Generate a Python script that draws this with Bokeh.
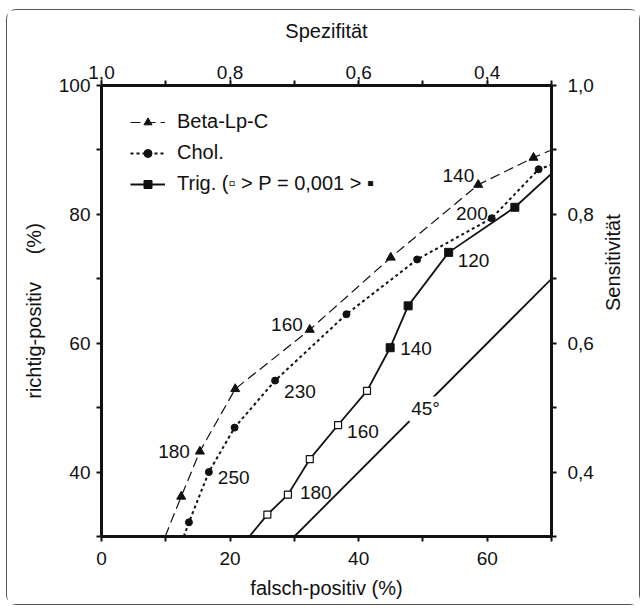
import math
from bokeh.plotting import figure
from bokeh.models import LinearAxis, FixedTicker, Label, Legend, LegendItem, Range1d
from bokeh.embed import file_html
from bokeh.resources import INLINE

# ---------------- data ----------------
fp_major = [0, 20, 40, 60]
fp_minor = [10, 30, 50, 70]
spec_labels = ["1,0", "0,8", "0,6", "0,4"]
tp_major = [40, 60, 80, 100]
tp_minor = [30, 50, 70, 90]
sens_labels = ["0,4", "0,6", "0,8", "1,0"]

# Beta-Lp-C (line vertices; first/last are where the curve meets the frame)
beta_fp = [9.9, 12.4, 15.3, 20.8, 32.4, 45.0, 58.6, 67.2, 70.0]
beta_tp = [30.0, 36.2, 43.2, 52.9, 62.1, 73.3, 84.6, 88.8, 90.0]
beta_cut = {2: "180", 4: "160", 6: "140"}

# Cholesterin
chol_fp = [12.8, 13.6, 16.7, 20.7, 27.0, 38.1, 49.1, 60.7, 68.0, 70.0]
chol_tp = [30.0, 32.2, 40.0, 46.9, 54.2, 64.5, 73.0, 79.4, 87.0, 87.7]
chol_cut = {2: "250", 4: "230", 7: "200"}

# Triglyceride (open = not significant, filled = significant)
trig_fp = [23.0, 25.8, 29.0, 32.4, 36.8, 41.3, 44.9, 47.7, 54.0, 64.3, 70.0]
trig_tp = [30.0, 33.4, 36.5, 42.0, 47.3, 52.6, 59.3, 65.8, 74.1, 81.1, 86.3]
trig_open_idx = [1, 2, 3, 4, 5]
trig_fill_idx = [6, 7, 8, 9]
trig_cut = {2: "180", 4: "160", 6: "140", 8: "120"}

diag_fp = [30, 70]
diag_tp = [30, 70]

FONT = "Liberation Sans"
INK = "#111111"

p = figure(width=634, height=596, output_backend="svg", toolbar_location=None,
           x_range=Range1d(0, 70), y_range=Range1d(30, 100),
           min_border_left=94, min_border_right=90, min_border_top=75, min_border_bottom=70,
           background_fill_color="white", border_fill_color="white")
p.outline_line_color = None
p.xgrid.visible = False
p.ygrid.visible = False
p.styles = {"border": "1.5px solid #555", "border-radius": "10px",
            "margin-left": "6px", "margin-top": "9px"}

bottom = p.below[0]
left = p.left[0]

bottom.ticker = FixedTicker(ticks=fp_major, minor_ticks=fp_minor)
bottom.axis_label = "falsch-positiv (%)"
left.ticker = FixedTicker(ticks=tp_major, minor_ticks=tp_minor)
left.axis_label = "richtig-positiv\u00a0\u00a0\u00a0\u00a0\u00a0(%)"

top = LinearAxis(ticker=FixedTicker(ticks=fp_major, minor_ticks=fp_minor),
                 major_label_overrides={t: s for t, s in zip(fp_major, spec_labels)},
                 axis_label="Spezifität")
right = LinearAxis(ticker=FixedTicker(ticks=tp_major, minor_ticks=tp_minor),
                   major_label_overrides={t: s for t, s in zip(tp_major, sens_labels)},
                   axis_label="Sensitivität")
p.add_layout(top, "above")
p.add_layout(right, "right")

for ax in [bottom, left, top, right]:
    ax.axis_line_width = 3
    ax.axis_line_color = INK
    ax.major_tick_line_width = 2
    ax.minor_tick_line_width = 2
    ax.major_tick_line_color = INK
    ax.minor_tick_line_color = INK
    ax.major_tick_in = 0
    ax.minor_tick_in = 0
    ax.major_tick_out = 5
    ax.minor_tick_out = 5
    ax.major_label_text_font = FONT
    ax.major_label_text_font_size = "19px"
    ax.major_label_text_color = INK
    ax.axis_label_text_font = FONT
    ax.axis_label_text_font_size = "20px"
    ax.axis_label_text_font_style = "normal"
    ax.axis_label_text_color = INK

bottom.major_label_standoff = 10
bottom.axis_label_standoff = 9
left.major_label_standoff = 6
left.axis_label_standoff = 11
top.major_label_standoff = 2
top.axis_label_standoff = 21
right.major_label_standoff = 11
right.axis_label_standoff = 16
right.axis_label_orientation = math.pi / 2

# curves
bl = p.line(beta_fp, beta_tp, line_color=INK, line_width=1.2, line_dash="10 5")
bs = p.scatter(beta_fp[1:-1], beta_tp[1:-1], marker="triangle", size=9,
               fill_color=INK, line_color=INK)
cl = p.line(chol_fp, chol_tp, line_color=INK, line_width=2, line_dash="3 3")
cs = p.scatter(chol_fp[1:-1], chol_tp[1:-1], marker="circle", size=7,
               fill_color=INK, line_color=INK)
tl = p.line(trig_fp, trig_tp, line_color=INK, line_width=1.8)
to = p.scatter([trig_fp[i] for i in trig_open_idx], [trig_tp[i] for i in trig_open_idx],
               marker="square", size=7, fill_color="white", line_color=INK, line_width=1.2)
tf = p.scatter([trig_fp[i] for i in trig_fill_idx], [trig_tp[i] for i in trig_fill_idx],
               marker="square", size=8, fill_color=INK, line_color=INK)
p.line(diag_fp, diag_tp, line_color=INK, line_width=1.8)

p.add_layout(Label(x=sum(diag_fp) / 2 + 0.4, y=sum(diag_tp) / 2 - 0.2, text="45°",
                   text_font=FONT, text_font_size="19px", text_color=INK,
                   text_align="center", text_baseline="middle",
                   background_fill_color="white", padding=2))

# cut-off labels placed beside their markers (offsets in screen px)
def put(xs, ys, cuts, offs):
    for (i, txt), (dx, dy, al) in zip(cuts.items(), offs):
        p.add_layout(Label(x=xs[i], y=ys[i], text=txt, x_offset=dx, y_offset=dy,
                           text_font=FONT, text_font_size="19px", text_color=INK,
                           text_align=al, text_baseline="middle"))

put(beta_fp, beta_tp, beta_cut, [(-10, 0, "right"), (-7, 5, "right"), (-4, 9, "right")])
put(chol_fp, chol_tp, chol_cut, [(9, -5, "left"), (9, -11, "left"), (-4, 5, "right")])
put(trig_fp, trig_tp, trig_cut, [(12, 2, "left"), (9, -6, "left"), (10, -1, "left"), (9, -8, "left")])

legend = Legend(items=[
    LegendItem(label="Beta-Lp-C", renderers=[bl, bs]),
    LegendItem(label="Chol.", renderers=[cl, cs]),
    LegendItem(label="Trig. (\u25ab > P = 0,001 > \u25aa", renderers=[tl, tf]),
], location=(29, 341), border_line_color=None, background_fill_alpha=0,
    label_text_font=FONT, label_text_font_size="20px", label_text_color=INK,
    glyph_width=35, glyph_height=20, label_height=20, spacing=8,
    label_standoff=12, padding=0, margin=0)
p.add_layout(legend, "center")

open("out.html", "w").write(file_html(p, INLINE))
